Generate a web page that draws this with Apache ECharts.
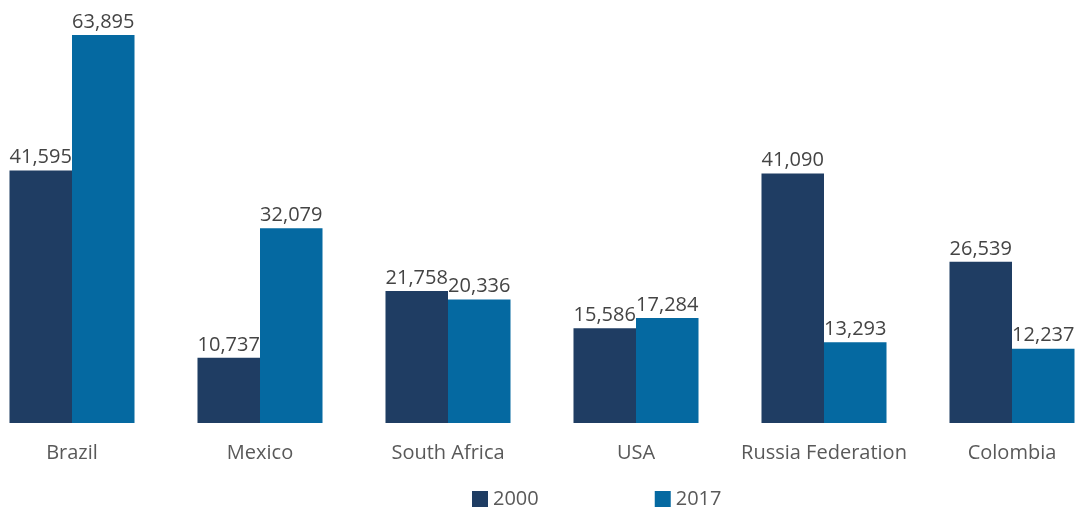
<!DOCTYPE html>
<html>
<head>
<meta charset="utf-8">
<style>
  html, body { margin: 0; padding: 0; background: #ffffff; overflow: hidden; }
  /* the plot runs a little past both window edges, so the canvas is wider and shifted left */
  #chart { width: 1128px; height: 512px; margin-left: -22px; }
</style>
<script src="https://cdn.jsdelivr.net/npm/echarts@6/dist/echarts.min.js"></script>
</head>
<body>
<div id="chart"></div>
<script>
// Countries compared, and the two reference years
const categories = ['Brazil', 'Mexico', 'South Africa', 'USA', 'Russia Federation', 'Colombia'];
const seriesNames = ['2000', '2017'];
const values2000 = [41595, 10737, 21758, 15586, 41090, 26539];
const values2017 = [63895, 32079, 20336, 17284, 13293, 12237];

const colors = ['#1f3d63', '#0569a1'];
const textFont = 'Open Sans';

const chart = echarts.init(document.getElementById('chart'), null, { renderer: 'canvas' });

const labelStyle = {
  show: true,
  position: 'top',
  distance: 3,
  color: '#444444',
  fontFamily: textFont,
  fontSize: 20,
  formatter: p => p.value.toLocaleString('en-US')
};

chart.setOption({
  backgroundColor: '#ffffff',
  animation: false,
  color: colors,
  legend: {
    left: 489,
    top: 484,
    icon: 'rect',
    itemWidth: 16,
    itemHeight: 16,
    itemGap: 116,
    textStyle: { color: '#595959', fontFamily: textFont, fontSize: 20, padding: [7, 0, 0, 0] },
    data: seriesNames
  },
  grid: { left: 0, right: 0, top: 35, bottom: 89, containLabel: false },
  xAxis: {
    type: 'category',
    data: categories,
    axisLine: { show: false },
    axisTick: { show: false },
    axisLabel: { margin: 20, color: '#595959', fontFamily: textFont, fontSize: 20, interval: 0 }
  },
  yAxis: {
    type: 'value',
    min: 0,
    max: v => v.max,
    show: false,
    splitLine: { show: false }
  },
  series: [
    {
      name: seriesNames[0],
      type: 'bar',
      data: values2000,
      barGap: '0%',
      barCategoryGap: '33.5%',
      label: labelStyle
    },
    {
      name: seriesNames[1],
      type: 'bar',
      data: values2017,
      barGap: '0%',
      barCategoryGap: '33.5%',
      label: labelStyle
    }
  ]
});
</script>
</body>
</html>
